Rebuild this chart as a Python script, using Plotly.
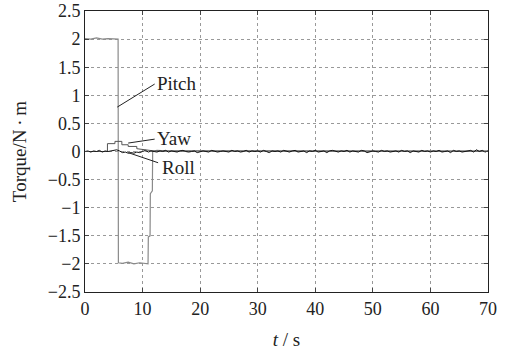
import plotly.graph_objects as go

# ---- data ----
pitch_t = [0, 1, 2, 3, 4, 5, 5.75, 5.8, 6.5, 7.5, 8.5, 9.5, 10.5, 10.95, 11.0, 11.3, 11.35, 11.7, 11.75, 12.5, 14, 70]
pitch_v = [2.01, 2.0, 2.02, 2.0, 2.01, 2.0, 2.0, -1.98, -1.99, -1.97, -2.0, -1.98, -1.99, -2.0, -1.52, -1.5, -0.75, -0.7, 0.0, 0.02, 0.01, 0.0]

yaw_t = [0, 3.9, 3.9, 5.2, 5.2, 6.4, 6.4, 7.5, 7.5, 9.0, 9.0, 10.5, 12, 70]
yaw_v = [0.0, 0.0, 0.14, 0.14, 0.18, 0.18, 0.12, 0.12, 0.09, 0.09, 0.05, 0.03, 0.01, 0.01]

roll_step = 0.5
roll_v = [
    0.00, 0.01, -0.01, 0.01, 0.00, 0.02, -0.01, 0.01, 0.00, 0.01,
    0.02, 0.03, 0.01, -0.02, -0.01, -0.03, -0.02, -0.03, -0.01, -0.02,
    0.00, 0.02, -0.01, 0.01, 0.00, -0.01, 0.01, 0.00, 0.02, -0.01,
    0.01, 0.00, -0.01, 0.01, 0.02, 0.00, -0.01, 0.00, 0.01, -0.02,
    0.00, 0.01, 0.00, -0.01, 0.02, 0.01, -0.01, 0.00, 0.01, 0.00,
    -0.01, 0.02, 0.00, 0.01, -0.01, 0.00, 0.02, -0.01, 0.01, 0.00,
    0.01, -0.01, 0.02, 0.00, -0.02, 0.01, 0.00, 0.01, -0.01, 0.02,
    0.00, -0.01, 0.01, 0.02, -0.01, 0.00, 0.01, -0.02, 0.01, 0.00,
    0.02, -0.01, 0.00, 0.01, -0.02, 0.01, 0.02, 0.00, -0.01, 0.01,
    0.00, 0.02, -0.01, 0.01, 0.00, -0.01, 0.02, 0.01, -0.02, 0.00,
    0.01, 0.00, -0.01, 0.02, 0.00, 0.01, -0.01, 0.00, 0.01, -0.01,
    0.02, 0.00, 0.01, -0.02, 0.01, 0.00, -0.01, 0.02, 0.00, 0.01,
    -0.01, 0.01, 0.00, 0.02, -0.01, 0.00, 0.01, -0.02, 0.02, 0.00,
    0.01, -0.01, 0.00, 0.01, 0.02, -0.01, 0.03, 0.00, 0.02, -0.01,
    0.01,
]
roll_t = [i * roll_step for i in range(len(roll_v))]

x_ticks = [0, 10, 20, 30, 40, 50, 60, 70]
y_ticks = [-2.5, -2, -1.5, -1, -0.5, 0, 0.5, 1, 1.5, 2, 2.5]
y_labels = ["\u22122.5", "\u22122", "\u22121.5", "\u22121", "\u22120.5", "0", "0.5", "1", "1.5", "2", "2.5"]

# label positions (data coords): (line point, line end, text position)
labels = [
    ("Pitch", (5.6, 0.79), (12.1, 1.2), (12.2, 1.21)),
    ("Yaw", (7.5, 0.15), (12.1, 0.22), (12.2, 0.24)),
    ("Roll", (7.5, -0.02), (12.7, -0.2), (13.0, -0.29)),
]

font_family = "Liberation Serif, Times New Roman, serif"
tickf = dict(family=font_family, size=18, color="#222222")
labf = dict(family=font_family, size=19, color="#222222")
titf = dict(family=font_family, size=19, color="#222222")

fig = go.Figure()
fig.add_trace(go.Scatter(x=pitch_t, y=pitch_v, mode="lines", name="Pitch",
                         line=dict(color="#8a8a8a", width=1.2)))
fig.add_trace(go.Scatter(x=yaw_t, y=yaw_v, mode="lines", name="Yaw",
                         line=dict(color="#555555", width=1)))
fig.add_trace(go.Scatter(x=roll_t, y=roll_v, mode="lines", name="Roll",
                         line=dict(color="#111111", width=1)))

for name, p0, p1, pt in labels:
    fig.add_shape(type="line", x0=p0[0], y0=p0[1], x1=p1[0], y1=p1[1],
                  xref="x", yref="y", line=dict(color="#222222", width=1))
    fig.add_annotation(x=pt[0], y=pt[1], xref="x", yref="y", text=name,
                       showarrow=False, xanchor="left", yanchor="middle",
                       font=labf)

fig.update_layout(
    template="none",
    width=506, height=350,
    margin=dict(l=85, r=18, t=11, b=58),
    paper_bgcolor="white", plot_bgcolor="white",
    showlegend=False,
    font=dict(family=font_family, size=18, color="#222222"),
)
fig.update_xaxes(
    range=[0, 70], tickvals=x_ticks, ticks="inside", ticklen=4,
    tickfont=tickf, automargin=False, ticklabeloverflow="allow",
    showline=True, linecolor="#222222", linewidth=1, mirror="allticks",
    showgrid=True, gridcolor="#999999", griddash="dot", gridwidth=1,
    zeroline=False,
    title=dict(text="<i>t</i> / s", font=titf, standoff=20),
)
fig.update_yaxes(
    range=[-2.5, 2.5], tickvals=y_ticks, ticktext=y_labels, ticks="inside", ticklen=4,
    tickfont=tickf, automargin=False, ticklabeloverflow="allow",
    showline=True, linecolor="#222222", linewidth=1, mirror="allticks",
    showgrid=True, gridcolor="#999999", griddash="dot", gridwidth=1,
    zeroline=False,
    title=dict(text="Torque/N\u2009\u00b7\u2009m", font=titf, standoff=16),
)

# remove the default 8px page margin so the 506x350 figure fills the window
fig.write_html("out.html", config={"displayModeBar": False},
               post_script="document.body.style.margin='0';")
